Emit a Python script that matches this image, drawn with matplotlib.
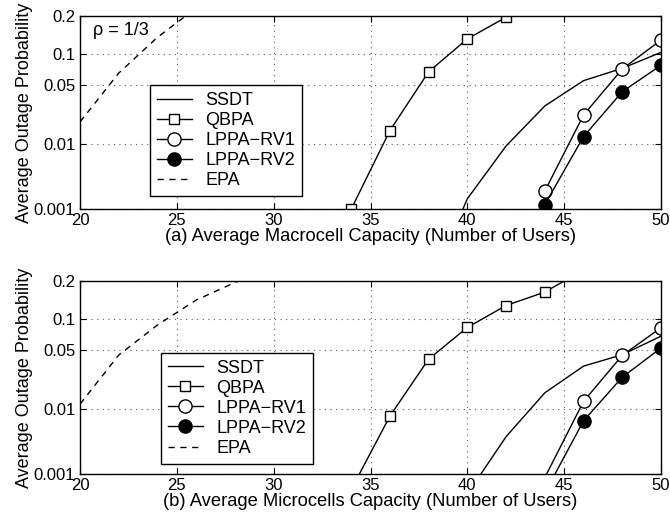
import math
from statistics import NormalDist

import matplotlib
matplotlib.use('Agg')
import matplotlib.pyplot as plt
import numpy as np

# (a) macrocell capacity
mac_ssdt_x = [38, 40, 42, 44, 46, 48, 50]
mac_ssdt = [0.00003, 0.0015, 0.0093, 0.0295, 0.0555, 0.0735, 0.103]
mac_qbpa_x = [34, 36, 38, 40, 42]
mac_qbpa = [0.001, 0.0148, 0.068, 0.134, 0.196]
mac_lppa_x = [44, 46, 48, 50]
mac_rv1 = [0.002, 0.0231, 0.0724, 0.131]
mac_rv2 = [0.0012, 0.0124, 0.0425, 0.0786]
mac_epa_x = [20, 22, 24, 26]
mac_epa = [0.019, 0.066, 0.138, 0.227]

# (b) microcells capacity
mic_ssdt_x = [40, 42, 44, 46, 48, 50]
mic_ssdt = [0.00045, 0.004, 0.0161, 0.0335, 0.0447, 0.069]
mic_qbpa_x = [34, 36, 38, 40, 42, 44, 46]
mic_qbpa = [0.00054, 0.0079, 0.040, 0.0836, 0.130, 0.166, 0.238]
mic_lppa_x = [44, 46, 48, 50]
mic_rv1 = [0.00088, 0.0125, 0.044, 0.083]
mic_rv2 = [0.00047, 0.0068, 0.025, 0.0525]
mic_epa_x = [20, 22, 24, 26, 28, 30]
mic_epa = [0.0115, 0.0443, 0.088, 0.144, 0.195, 0.25]

yticks = [0.001, 0.01, 0.05, 0.1, 0.2]
ytick_labels = ['0.001', '0.01', '0.05', '0.1', '0.2']
xticks = [20, 25, 30, 35, 40, 45, 50]

YMIN, YMAX = 0.001, 0.2

_nd = NormalDist()
_ppf = np.vectorize(_nd.inv_cdf, otypes=[float])
_erf = np.vectorize(math.erf, otypes=[float])


def probit(p):
    p = np.asarray(p, dtype=float)
    p = np.where(np.isnan(p), 0.5, p)
    return _ppf(np.clip(p, 1e-12, 1 - 1e-12))


def inv_probit(z):
    z = np.asarray(z, dtype=float)
    return 0.5 * (1 + _erf(z / math.sqrt(2)))


plt.rcParams['font.family'] = ['Liberation Sans', 'DejaVu Sans']
plt.rcParams['font.size'] = 12


def visible(vals):
    return [YMIN * 0.999 <= v <= YMAX * 1.001 for v in vals]


def draw(ax, d, xlabel, legend_xy):
    ax.set_yscale('function', functions=(probit, inv_probit))
    lw = 1.0
    ax.plot(d['ssdt_x'], d['ssdt'], '-', color='k', lw=lw, label='SSDT')
    ax.plot(d['qbpa_x'], d['qbpa'], '-', color='k', lw=lw, marker='s',
            ms=7, mfc='white', mec='k', mew=1.0,
            markevery=visible(d['qbpa']), label='QBPA')
    ax.plot(d['lppa_x'], d['rv1'], '-', color='k', lw=lw, marker='o',
            ms=9.5, mfc='white', mec='k', mew=1.0,
            markevery=visible(d['rv1']), label='LPPA\u2212RV1')
    ax.plot(d['lppa_x'], d['rv2'], '-', color='k', lw=lw, marker='o',
            ms=9.5, mfc='k', mec='k',
            markevery=visible(d['rv2']), label='LPPA\u2212RV2')
    ax.plot(d['epa_x'], d['epa'], color='k', lw=lw, dashes=(4.5, 4),
            label='EPA')

    ax.set_xlim(20, 50)
    ax.set_ylim(YMIN, YMAX)
    ax.set_xticks(xticks)
    ax.set_yticks(yticks)
    ax.set_yticklabels(ytick_labels)
    ax.yaxis.set_minor_locator(matplotlib.ticker.NullLocator())
    ax.xaxis.set_minor_locator(matplotlib.ticker.NullLocator())
    ax.tick_params(direction='in', top=True, right=True, length=4,
                   width=0.8, labelsize=12)
    ax.tick_params(axis='x', pad=2.5)
    ax.tick_params(axis='y', pad=3.5)
    ax.grid(True, linestyle=(0, (1, 4)), color='0.35', lw=0.8)
    for s in ax.spines.values():
        s.set_linewidth(1.0)
    ax.set_xlabel(xlabel, fontsize=13.2, labelpad=0.5)
    ax.set_ylabel('Average Outage Probability', fontsize=13, labelpad=0.5)
    leg = ax.legend(loc='lower left', bbox_to_anchor=legend_xy,
                    borderaxespad=0, fancybox=False, framealpha=1,
                    edgecolor='k', fontsize=13, handlelength=1.95,
                    handletextpad=0.75, labelspacing=0.17, borderpad=0.38)
    leg.get_frame().set_linewidth(1.0)


fig = plt.figure(figsize=(6.7, 5.24), dpi=100)
ax1 = fig.add_axes([0.1194, 0.6006, 0.8672, 0.3689])
ax2 = fig.add_axes([0.1194, 0.0948, 0.8672, 0.3689])

draw(ax1, dict(ssdt_x=mac_ssdt_x, ssdt=mac_ssdt, qbpa_x=mac_qbpa_x,
               qbpa=mac_qbpa, lppa_x=mac_lppa_x, rv1=mac_rv1, rv2=mac_rv2,
               epa_x=mac_epa_x, epa=mac_epa),
     '(a) Average Macrocell Capacity (Number of Users)', (0.12, 0.067))
ax1.text(0.022, 0.925, '\u03c1 = 1/3', transform=ax1.transAxes,
         ha='left', va='center', fontsize=13)

draw(ax2, dict(ssdt_x=mic_ssdt_x, ssdt=mic_ssdt, qbpa_x=mic_qbpa_x,
               qbpa=mic_qbpa, lppa_x=mic_lppa_x, rv1=mic_rv1, rv2=mic_rv2,
               epa_x=mic_epa_x, epa=mic_epa),
     '(b) Average Microcells Capacity (Number of Users)', (0.139, 0.055))

fig.savefig('out.png', dpi=100)
